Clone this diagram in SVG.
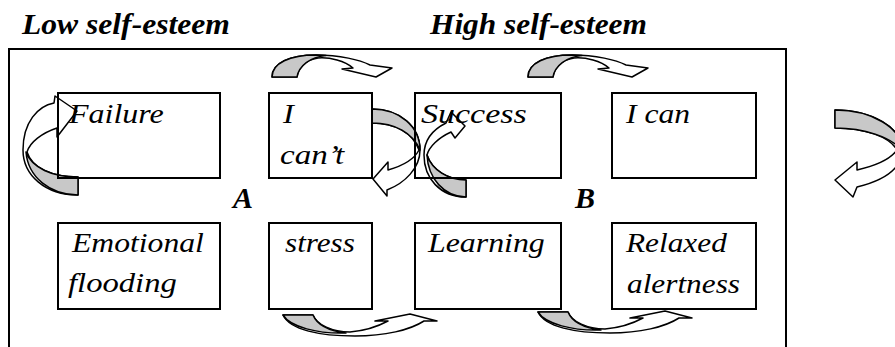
<svg xmlns="http://www.w3.org/2000/svg" width="895" height="347" viewBox="0 0 895 347">
<style>
.frame{fill:none;stroke:#000;stroke-width:2}
.box{fill:none;stroke:#000;stroke-width:2}
.aw{fill:#fff;stroke:#000;stroke-width:1.5;stroke-linejoin:round}
.ag{fill:#c8c8c8;stroke:#000;stroke-width:1.5;stroke-linejoin:round}
</style>
<rect class="frame" x="9" y="49" width="777" height="310"/>
<g font-family="Liberation Serif" font-style="italic" font-weight="bold" font-size="30" fill="#000">
<text transform="translate(22,34) scale(1.053,1)">Low self-esteem</text>
<text transform="translate(430,34) scale(1.046,1)">High self-esteem</text>
</g>
<g id="connectors">
<g id="topArrow1">
<path class="aw" d="M272,77 C272,63 290,55 316,55 C340,55 360,60 370,65 L392,68 L376,77 L342,69 L353,68 C345,61 330,57 318,58 C305,60 298,68 297,77 Z"/>
<path class="ag" d="M272,77 C272,63 290,55 316,55 L326,55.5 C310,57 299,66 297,77 Z"/>
</g>
<g id="topArrow2" transform="translate(256,0)">
<path class="aw" d="M272,77 C272,63 290,55 316,55 C340,55 360,60 370,65 L392,68 L376,77 L342,69 L353,68 C345,61 330,57 318,58 C305,60 298,68 297,77 Z"/>
<path class="ag" d="M272,77 C272,63 290,55 316,55 L326,55.5 C310,57 299,66 297,77 Z"/>
</g>
<g id="bottomArrow1">
<path class="aw" d="M283,315 C290,330 320,336 355,336 C385,336 410,330 424,321 L437,321 L410,314 L375,321 L388,321 C375,328 362,331 350,332 C332,332 317,325 313,315 Z"/>
<path class="ag" d="M283,315 L313,315 C317,325 330,331 346,333 C318,334 290,327 283,315 Z"/>
</g>
<g id="bottomArrow2" transform="translate(255,-3)">
<path class="aw" d="M283,315 C290,330 320,336 355,336 C385,336 410,330 424,321 L437,321 L410,314 L375,321 L388,321 C375,328 362,331 350,332 C332,332 317,325 313,315 Z"/>
<path class="ag" d="M283,315 L313,315 C317,325 330,331 346,333 C318,334 290,327 283,315 Z"/>
</g>
<g id="leftLoop">
<path class="aw" d="M78,195 C45,195 23,175 23,150 C23,122 38,106 54,103 L55,96 L77,111 L57,137 L57,128 C42,133 30,142 27,152 C32,168 52,177 78,177 Z"/>
<path class="ag" d="M78,177 C52,177 32,168 26,152 C28,177 50,195 78,195 Z"/>
</g>
<g id="midLoopA">
<path class="aw" d="M372,109 C400,109 420,127 420,150 C420,168 405,183 387,190 L387,196 L373,179 L388,162 L388,170 C402,166 414,160 419,150 C413,133 395,123 372,123 Z"/>
<path class="ag" d="M372,109 C400,109 420,127 420,150 C413,133 395,123 372,123 Z"/>
</g>
<g id="midLoopB">
<path class="aw" d="M466,197 C440,197 424,178 424,155 C424,140 432,130 446,123 L451,112 L465,126 L455,138 L451,132 C438,138 429,147 427,155 C432,170 448,180 466,180 Z"/>
<path class="ag" d="M466,180 C448,180 432,170 427,155 C428,178 444,197 466,197 Z"/>
</g>
<g id="rightLoop">
<path class="aw" d="M835,110 C872,110 902,128 902,150 C902,168 885,180 857,187 L853,197 L835,180 L857,162 L857,170 C875,166 890,160 897,150 C890,137 865,128 835,128 Z"/>
<path class="ag" d="M835,110 C872,110 902,128 902,150 C890,137 865,128 835,128 Z"/>
</g>
</g>
<g font-family="Liberation Serif" font-style="italic" font-size="27" fill="#000">
<g id="failure"><rect class="box" x="58" y="93" width="162" height="85"/><text transform="translate(69,123) scale(1.185,1)">Failure</text></g>
<g id="icant"><rect class="box" x="269" y="93" width="103" height="85"/><text transform="translate(283,123) scale(1.2,1)">I</text><text transform="translate(280,164) scale(1.225,1)">can&#8217;t</text></g>
<g id="success"><rect class="box" x="415" y="93" width="146" height="85"/><text transform="translate(421,123) scale(1.26,1)">Success</text></g>
<g id="ican"><rect class="box" x="612" y="93" width="144" height="85"/><text transform="translate(626,123) scale(1.17,1)">I can</text></g>
<g id="emotional"><rect class="box" x="58" y="223" width="162" height="86"/><text transform="translate(72,252) scale(1.173,1)">Emotional</text><text transform="translate(68,292) scale(1.21,1)">flooding</text></g>
<g id="stress"><rect class="box" x="269" y="223" width="103" height="86"/><text transform="translate(285,252) scale(1.155,1)">stress</text></g>
<g id="learning"><rect class="box" x="415" y="223" width="146" height="86"/><text transform="translate(428,252) scale(1.18,1)">Learning</text></g>
<g id="relaxed"><rect class="box" x="612" y="223" width="144" height="86"/><text transform="translate(626,252) scale(1.16,1)">Relaxed</text><text transform="translate(627,293) scale(1.16,1)">alertness</text></g>
</g>
<g font-family="Liberation Serif" font-style="italic" font-weight="bold" font-size="30" fill="#000">
<g id="labelA"><text x="233" y="208">A</text></g>
<g id="labelB"><text x="575" y="208">B</text></g>
</g>
</svg>
